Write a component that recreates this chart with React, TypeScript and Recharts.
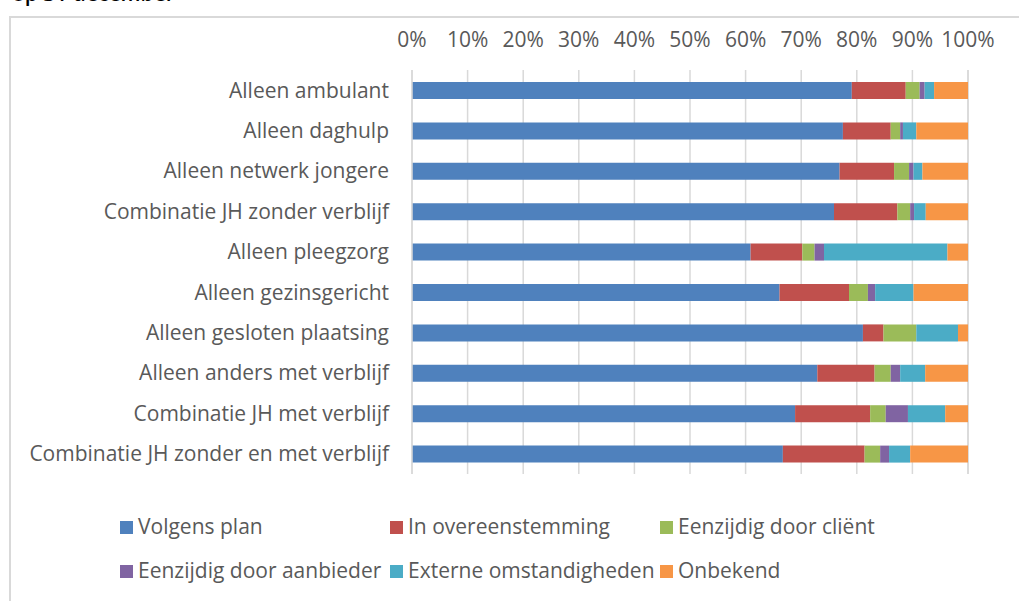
import { BarChart, Bar, XAxis, YAxis, CartesianGrid } from "recharts";

const CATEGORIES = [
    "Alleen ambulant",
    "Alleen daghulp",
    "Alleen netwerk jongere",
    "Combinatie JH zonder verblijf",
    "Alleen pleegzorg",
    "Alleen gezinsgericht",
    "Alleen gesloten plaatsing",
    "Alleen anders met verblijf",
    "Combinatie JH met verblijf",
    "Combinatie JH zonder en met verblijf",
];

const VOLGENS_PLAN = [79.1, 77.5, 76.9, 75.9, 60.9, 66.1, 81.1, 72.9, 68.9, 66.7];
const IN_OVEREENSTEMMING = [9.7, 8.6, 9.8, 11.4, 9.3, 12.5, 3.7, 10.3, 13.5, 14.7];
const DOOR_CLIENT = [2.5, 1.7, 2.7, 2.3, 2.2, 3.4, 5.9, 2.9, 2.8, 2.8];
const DOOR_AANBIEDER = [0.9, 0.5, 0.8, 0.7, 1.7, 1.3, 0, 1.7, 4.0, 1.6];
const EXTERN = [1.7, 2.4, 1.6, 2.1, 22.2, 6.9, 7.5, 4.5, 6.7, 3.8];
const ONBEKEND = [6.1, 9.3, 8.2, 7.6, 3.7, 9.8, 1.8, 7.7, 4.1, 10.4];

const X_TICKS = [0, 10, 20, 30, 40, 50, 60, 70, 80, 90, 100];

const SERIES = [
    { key: "plan", name: "Volgens plan", values: VOLGENS_PLAN, color: "#4f81bd" },
    { key: "overeen", name: "In overeenstemming", values: IN_OVEREENSTEMMING, color: "#c0504d" },
    { key: "client", name: "Eenzijdig door cliënt", values: DOOR_CLIENT, color: "#9bbb59" },
    { key: "aanbieder", name: "Eenzijdig door aanbieder", values: DOOR_AANBIEDER, color: "#8064a2" },
    { key: "extern", name: "Externe omstandigheden", values: EXTERN, color: "#4bacc6" },
    { key: "onbekend", name: "Onbekend", values: ONBEKEND, color: "#f79646" },
];

const data = CATEGORIES.map((name, i) => {
    const row: Record<string, string | number> = { name };
    SERIES.forEach((s) => {
        row[s.key] = s.values[i];
    });
    return row;
});

const FONT = "'Open Sans', sans-serif";
const TEXT = "#595959";
const SIZE = 21;

export default function App() {
    return (
        <div
            style={{
                position: "absolute",
                left: 0,
                top: 0,
                width: 1019,
                height: 601,
                overflow: "hidden",
                background: "#fff",
                fontFamily: FONT,
            }}
        >
            {/* title, mostly cut off above the frame */}
            <div
                style={{
                    position: "absolute",
                    left: 12,
                    top: -18,
                    fontSize: SIZE,
                    lineHeight: "22px",
                    fontWeight: 600,
                    color: "#000",
                    whiteSpace: "nowrap",
                }}
            >
                op 31 december
            </div>

            {/* chart frame */}
            <div
                style={{
                    position: "absolute",
                    left: 9,
                    top: 16,
                    width: 1030,
                    height: 620,
                    borderLeft: "2px solid #d9d9d9",
                    borderTop: "2px solid #d9d9d9",
                }}
            />

            <div style={{ position: "absolute", left: 0, top: 0 }}>
                <BarChart
                    width={1019}
                    height={601}
                    data={data}
                    layout="vertical"
                    barSize={17}
                    margin={{ top: 30, right: 51, bottom: 127, left: 0 }}
                >
                    <CartesianGrid horizontal={false} stroke="#d9d9d9" strokeWidth={1.5} />
                    <XAxis
                        type="number"
                        orientation="top"
                        domain={[0, 100]}
                        ticks={X_TICKS}
                        tickFormatter={(v) => `${v}%`}
                        height={40}
                        axisLine={false}
                        tickLine={false}
                        tickSize={0}
                        tickMargin={23}
                        interval={0}
                        tick={{ fill: TEXT, fontSize: SIZE, fontFamily: FONT }}
                    />
                    <YAxis
                        type="category"
                        dataKey="name"
                        width={412}
                        axisLine={{ stroke: "#d9d9d9", strokeWidth: 1.5 }}
                        tickLine={false}
                        tickSize={0}
                        tickMargin={23}
                        interval={0}
                        tick={{ fill: TEXT, fontSize: SIZE, fontFamily: FONT }}
                    />
                    {SERIES.map((s) => (
                        <Bar
                            key={s.key}
                            dataKey={s.key}
                            name={s.name}
                            stackId="a"
                            fill={s.color}
                            isAnimationActive={false}
                        />
                    ))}
                </BarChart>
            </div>

            {/* legend */}
            {[SERIES.slice(0, 3), SERIES.slice(3)].map((row, r) => (
                <div
                    key={r}
                    style={{
                        position: "absolute",
                        left: 120,
                        top: r === 0 ? 514 : 558,
                        display: "flex",
                    }}
                >
                    {row.map((s) => (
                        <div
                            key={s.key}
                            style={{
                                width: 270,
                                display: "flex",
                                alignItems: "center",
                                fontSize: SIZE,
                                lineHeight: "24px",
                                color: TEXT,
                                whiteSpace: "nowrap",
                            }}
                        >
                            <span
                                style={{
                                    width: 13,
                                    height: 13,
                                    background: s.color,
                                    marginRight: 5,
                                    marginTop: 2,
                                    flexShrink: 0,
                                }}
                            />
                            {s.name}
                        </div>
                    ))}
                </div>
            ))}
        </div>
    );
}
